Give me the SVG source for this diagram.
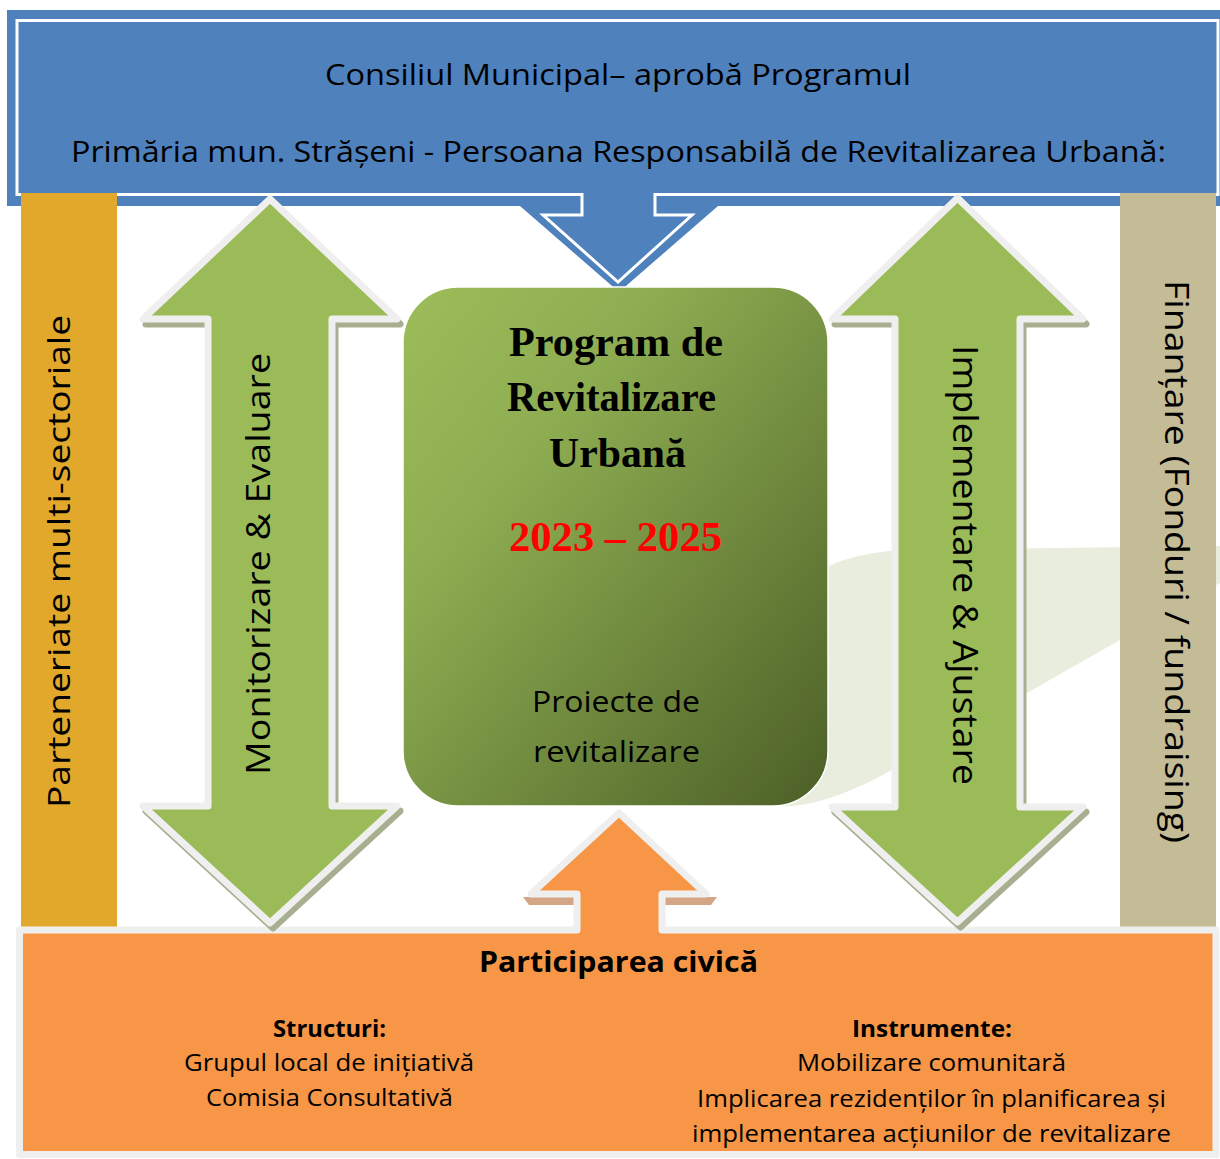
<svg xmlns="http://www.w3.org/2000/svg" width="1220" height="1159" viewBox="0 0 1220 1159">
  <defs>
    <linearGradient id="gBox" x1="0" y1="0" x2="1" y2="1">
      <stop offset="0" stop-color="#9DBD5A"/>
      <stop offset="0.3" stop-color="#8EAD51"/>
      <stop offset="1" stop-color="#4C5F27"/>
    </linearGradient>
  </defs>
  <style>
    .sans { font-family: "Open Sans", "Noto Sans", "Liberation Sans", sans-serif; fill: #000; }
    .serif { font-family: "Liberation Serif", "Times New Roman", serif; font-weight: bold; }
    .garrow { fill: #9BBB59; stroke: #EFEFEF; stroke-width: 7; stroke-linejoin: round; }
    .gshadow { fill: #A8AF91; stroke: #A8AF91; stroke-width: 7; stroke-linejoin: round; }
  </style>
  <rect x="0" y="0" width="1220" height="1159" fill="#FFFFFF"/>

  <!-- faint background swoosh -->
  <path d="M800,600 C805,575 830,556 900,550 L1220,546 L1220,583 L890,771 C850,793 810,808 780,806 Z" fill="#E9EDDD"/>

  <g id="header">
    <path d="M7,10 H1220 V206 H718 L619,292 L520,206 H7 Z" fill="#4F81BD"/>
    <path d="M17,20.5 H1218 V194.5 H655 V215 H692 L618,282 L543,215 H582 V194.5 H17 Z" fill="none" stroke="#FFFFFF" stroke-width="3"/>
    <text class="sans" x="325" y="85" font-size="30" textLength="586" lengthAdjust="spacingAndGlyphs">Consiliul Municipal– aprobă Programul</text>
    <text class="sans" x="71" y="162" font-size="30" textLength="1095" lengthAdjust="spacingAndGlyphs">Primăria mun. Strășeni - Persoana Responsabilă de Revitalizarea Urbană:</text>
  </g>

  <g id="parteneriate">
    <rect x="21" y="193" width="96" height="736" fill="#E2A82B"/>
    <text class="sans" transform="translate(70,808) rotate(-90)" x="0" y="0" font-size="31" textLength="493" lengthAdjust="spacingAndGlyphs">Parteneriate multi-sectoriale</text>
  </g>

  <g id="finantare">
    <rect x="1120" y="193" width="96" height="736" fill="#C4BC96"/>
    <text class="sans" transform="translate(1165,280) rotate(90)" x="0" y="0" font-size="33" textLength="563" lengthAdjust="spacingAndGlyphs">Finanțare (Fonduri / fundraising)</text>
  </g>

  <g id="participare">
    <path d="M523,897 L717,897 L711,905 L529,905 Z" fill="#D4A686"/>
    <path d="M19.5,930 H577 V894 H531 L619,813 L706,894 H662 V930 H1216 V1154.5 H19.5 Z" fill="#F69646" stroke="#EFEFEF" stroke-width="7" stroke-linejoin="round"/>
    <text class="sans" x="479" y="972" font-size="29" font-weight="bold" textLength="279" lengthAdjust="spacingAndGlyphs">Participarea civică</text>
    <text class="sans" x="273" y="1037" font-size="23" font-weight="bold" textLength="113" lengthAdjust="spacingAndGlyphs">Structuri:</text>
    <text class="sans" x="184" y="1071" font-size="23" textLength="290" lengthAdjust="spacingAndGlyphs">Grupul local de inițiativă</text>
    <text class="sans" x="206" y="1106" font-size="23" textLength="247" lengthAdjust="spacingAndGlyphs">Comisia Consultativă</text>
    <text class="sans" x="852" y="1037" font-size="23" font-weight="bold" textLength="160" lengthAdjust="spacingAndGlyphs">Instrumente:</text>
    <text class="sans" x="797" y="1071" font-size="23" textLength="269" lengthAdjust="spacingAndGlyphs">Mobilizare comunitară</text>
    <text class="sans" x="697" y="1107" font-size="23" textLength="469" lengthAdjust="spacingAndGlyphs">Implicarea rezidenților în planificarea și</text>
    <text class="sans" x="692" y="1142" font-size="23" textLength="479" lengthAdjust="spacingAndGlyphs">implementarea acțiunilor de revitalizare</text>
  </g>

  <g id="program">
    <rect x="403" y="287" width="425" height="519" rx="55" ry="55" fill="url(#gBox)" stroke="#FFFFFF" stroke-width="1.5"/>
    <text class="serif" x="509" y="356" font-size="42" textLength="214" lengthAdjust="spacingAndGlyphs">Program de</text>
    <text class="serif" x="507" y="411" font-size="42" textLength="209" lengthAdjust="spacingAndGlyphs">Revitalizare</text>
    <text class="serif" x="549" y="467" font-size="42" textLength="137" lengthAdjust="spacingAndGlyphs">Urbană</text>
    <text class="serif" x="509" y="551" font-size="42" fill="#FF0000" textLength="213" lengthAdjust="spacingAndGlyphs">2023 – 2025</text>
    <text class="sans" x="532" y="712" font-size="29" textLength="168" lengthAdjust="spacingAndGlyphs">Proiecte de</text>
    <text class="sans" x="533" y="762" font-size="29" textLength="167" lengthAdjust="spacingAndGlyphs">revitalizare</text>
  </g>

  <g id="connectors">
    <g id="monitorizare">
      <path class="gshadow" transform="translate(3,5)" d="M270,199 L397,319 H332 V806 H397 L270,923 L143,806 H208 V319 H143 Z"/>
      <path class="garrow" d="M270,199 L397,319 H332 V806 H397 L270,923 L143,806 H208 V319 H143 Z"/>
      <text class="sans" transform="translate(270,775) rotate(-90)" x="0" y="0" font-size="33" textLength="422" lengthAdjust="spacingAndGlyphs">Monitorizare &amp; Evaluare</text>
    </g>
    <g id="implementare">
      <path class="gshadow" transform="translate(3,5)" d="M957.5,198 L1083,319 H1020 V807 H1083 L957.5,922 L832,807 H895 V319 H832 Z"/>
      <path class="garrow" d="M957.5,198 L1083,319 H1020 V807 H1083 L957.5,922 L832,807 H895 V319 H832 Z"/>
      <text class="sans" transform="translate(953,345) rotate(90)" x="0" y="0" font-size="34" textLength="440" lengthAdjust="spacingAndGlyphs">Implementare &amp; Ajustare</text>
    </g>
  </g>
</svg>
